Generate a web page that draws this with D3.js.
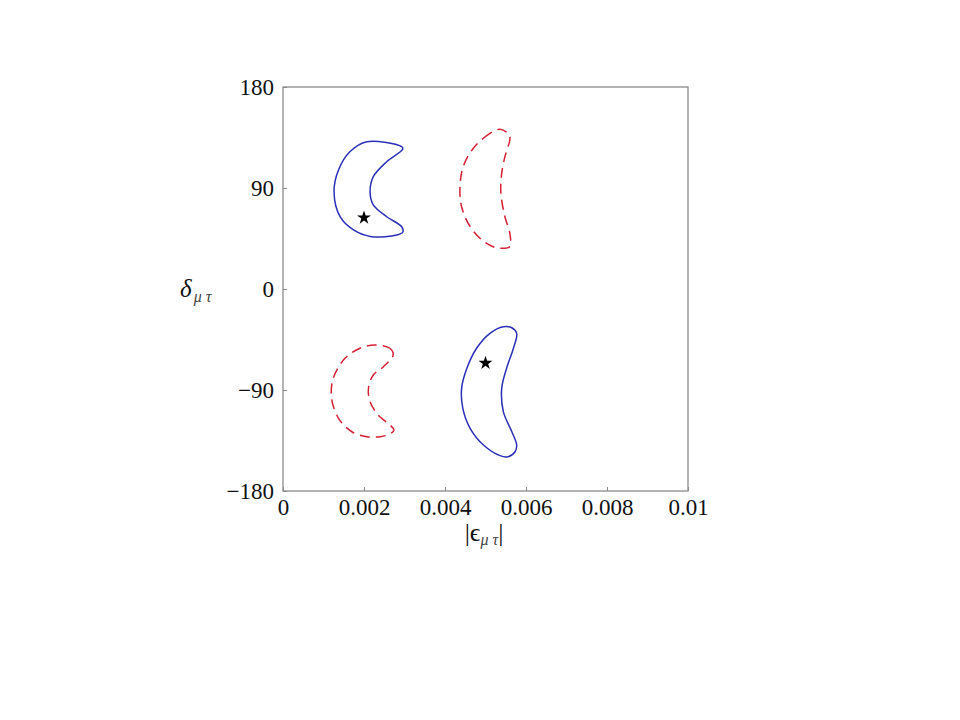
<!DOCTYPE html>
<html><head><meta charset="utf-8">
<script src="https://cdn.jsdelivr.net/npm/d3@7"></script>
<style>body{margin:0;background:#fff;} svg{display:block;}</style>
</head><body>
<svg id="c" width="960" height="720"></svg>
<script>
const xTicks = [0, 0.002, 0.004, 0.006, 0.008, 0.01];
const xTickLabels = ["0", "0.002", "0.004", "0.006", "0.008", "0.01"];
const yTicks = [-180, -90, 0, 90, 180];
const yTickLabels = ["\u2212180", "\u221290", "0", "90", "180"];

const blueUpper = [[0.00207,131.3],[0.00293,126.8],[0.00296,124.8],[0.00256,113.4],[0.00223,100.1],[0.00215,86.7],[0.00223,74.9],[0.00256,64.4],[0.00293,55.5],[0.00296,50.8],[0.00281,48.1],[0.00219,46.6],[0.00174,52.6],[0.00141,64.4],[0.00126,86.7],[0.00137,106.0],[0.00165,122.3]];
const blueLower = [[0.00544,-33.6],[0.00565,-34.5],[0.00577,-39.5],[0.00569,-52.8],[0.00552,-70.7],[0.00540,-88.5],[0.00544,-109.3],[0.00565,-127.2],[0.00577,-139.0],[0.00573,-145.0],[0.00556,-149.4],[0.00536,-148.5],[0.00495,-139.0],[0.00462,-124.1],[0.00444,-106.3],[0.00441,-88.5],[0.00454,-70.7],[0.00478,-52.8],[0.00511,-39.5]];
const redUpper = [[0.00536,142.3],[0.00511,138.7],[0.00470,125.4],[0.00445,109.0],[0.00437,91.2],[0.00441,73.3],[0.00462,55.5],[0.00491,43.7],[0.00519,37.7],[0.00540,36.3],[0.00560,37.7],[0.00560,49.6],[0.00548,64.4],[0.00538,85.3],[0.00540,103.1],[0.00548,117.9],[0.00560,132.8],[0.00559,137.2]];
const redLower = [[0.00227,-49.9],[0.00264,-52.8],[0.00272,-58.8],[0.00248,-69.2],[0.00223,-76.6],[0.00211,-88.5],[0.00215,-100.4],[0.00235,-112.3],[0.00264,-121.2],[0.00274,-125.6],[0.00264,-129.2],[0.00240,-131.6],[0.00207,-131.6],[0.00170,-127.2],[0.00137,-115.2],[0.00120,-97.4],[0.00124,-79.6],[0.00153,-61.8],[0.00190,-52.8]];
const stars = [[0.002, 63.5], [0.005, -66]];

const L = 283, R = 688, T = 87, B = 491;
const x = d3.scaleLinear().domain([0, 0.01]).range([L, R]);
const y = d3.scaleLinear().domain([-180, 180]).range([B, T]);
const svg = d3.select("#c");
const serif = "'Liberation Serif','DejaVu Serif',serif";
const frameCol = "#8a8a8a";

svg.append("rect").attr("x", L).attr("y", T).attr("width", R - L).attr("height", B - T)
  .attr("fill", "none").attr("stroke", frameCol).attr("stroke-width", 1.3);

const xAxis = d3.axisBottom(x).tickValues(xTicks).tickSize(-4).tickFormat((d, i) => xTickLabels[i]);
const gx = svg.append("g").attr("transform", `translate(0,${B})`).call(xAxis);
gx.select(".domain").remove();
gx.selectAll("line").attr("stroke", frameCol);
gx.selectAll("text").attr("font-family", serif).attr("font-size", 23).attr("fill", "#111").attr("dy", null).attr("y", 24);

const yAxis = d3.axisLeft(y).tickValues(yTicks).tickSize(-4).tickFormat((d, i) => yTickLabels[i]);
const gy = svg.append("g").attr("transform", `translate(${L},0)`).call(yAxis);
gy.select(".domain").remove();
gy.selectAll("line").attr("stroke", frameCol);
gy.selectAll("text").attr("font-family", serif).attr("font-size", 23).attr("fill", "#111").attr("x", -9).attr("dy", "0.33em");

const line = d3.line().x(d => x(d[0])).y(d => y(d[1])).curve(d3.curveCatmullRomClosed.alpha(0.5));

svg.append("path").datum(blueUpper).attr("d", line).attr("fill", "none").attr("stroke", "#2a2fb8").attr("stroke-width", 1.5);
svg.append("path").datum(blueLower).attr("d", line).attr("fill", "none").attr("stroke", "#2a2fb8").attr("stroke-width", 1.5);
svg.append("path").datum(redUpper).attr("d", line).attr("fill", "none").attr("stroke", "#d41f35").attr("stroke-width", 1.5).attr("stroke-dasharray", "10,6");
svg.append("path").datum(redLower).attr("d", line).attr("fill", "none").attr("stroke", "#d41f35").attr("stroke-width", 1.5).attr("stroke-dasharray", "10,6");

const star = d3.symbol().type(d3.symbolStar).size(60);
svg.selectAll(".star").data(stars).join("path").attr("class", "star")
  .attr("d", star).attr("transform", d => `translate(${x(d[0])},${y(d[1])})`).attr("fill", "#000");

const yl = svg.append("text").attr("x", 180).attr("y", 297).attr("font-family", serif).attr("font-size", 25).attr("fill", "#111");
yl.append("tspan").attr("font-style", "italic").text("\u03b4");
yl.append("tspan").attr("font-style", "italic").attr("font-size", 16).attr("fill", "#444").attr("dy", 5).attr("dx", 2).text("\u03bc \u03c4");

const xl = svg.append("text").attr("x", 484).attr("y", 541).attr("text-anchor", "middle").attr("font-family", serif).attr("font-size", 26).attr("fill", "#111");
xl.append("tspan").text("|\u03f5");
xl.append("tspan").attr("font-style", "italic").attr("font-size", 16).attr("fill", "#444").attr("dy", 4).text("\u03bc \u03c4");
xl.append("tspan").attr("dy", -4).text("|");
</script>
</body></html>
